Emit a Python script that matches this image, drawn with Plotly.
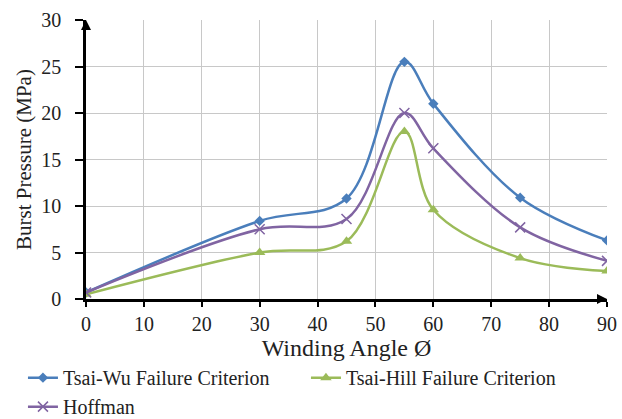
import plotly.graph_objects as go

angles = [0, 30, 45, 55, 60, 75, 90]
tsai_wu = [0.7, 8.4, 10.8, 25.5, 21.0, 10.9, 6.3]
tsai_hill = [0.5, 5.0, 6.2, 18.0, 9.6, 4.4, 3.0]
hoffman = [0.7, 7.5, 8.6, 20.0, 16.2, 7.7, 4.1]
x_ticks = [0, 10, 20, 30, 40, 50, 60, 70, 80, 90]
y_ticks = [0, 5, 10, 15, 20, 25, 30]

FONT = "Liberation Serif, Times New Roman, serif"
TXT = "#222"

fig = go.Figure()
fig.add_trace(go.Scatter(x=angles, y=tsai_wu, name="Tsai-Wu Failure Criterion",
                         mode="lines+markers", line=dict(color="#4A7EBB", width=2.5, shape="spline", smoothing=1),
                         marker=dict(symbol="diamond", size=8, color="#4A7EBB")))
fig.add_trace(go.Scatter(x=angles, y=tsai_hill, name="Tsai-Hill Failure Criterion",
                         mode="lines+markers", line=dict(color="#9BBB59", width=2.5, shape="spline", smoothing=1),
                         marker=dict(symbol="triangle-up", size=10, color="#9BBB59")))
fig.add_trace(go.Scatter(x=angles, y=hoffman, name="Hoffman",
                         mode="lines+markers", line=dict(color="#8064A2", width=2.5, shape="spline", smoothing=1),
                         marker=dict(symbol="x-thin", size=10, line=dict(color="#8064A2", width=1.5))))

fig.update_layout(
    width=622, height=419,
    margin=dict(l=86, r=15, t=20, b=120, autoexpand=False),
    paper_bgcolor="white", plot_bgcolor="white",
    font=dict(family=FONT, color=TXT, size=20),
    showlegend=True,
    legend=dict(orientation="h", x=-0.121, y=-0.212, xanchor="left", yanchor="top",
                font=dict(family=FONT, size=20, color=TXT), tracegroupgap=0, itemwidth=30,
                entrywidth=238, entrywidthmode="pixels"),
    xaxis=dict(range=[0, 90], tickvals=x_ticks, showgrid=True, gridcolor="#c8c8c8", gridwidth=1,
               showline=True, linecolor="black", linewidth=2.5, ticks="outside", ticklen=5,
               tickcolor="black", tickwidth=2, zeroline=False, ticklabelstandoff=0,
               tickfont=dict(family=FONT, size=20, color=TXT),
               title=dict(text="Winding Angle Ø", font=dict(family=FONT, size=24, color=TXT), standoff=0)),
    yaxis=dict(range=[0, 30], tickvals=y_ticks, showgrid=True, gridcolor="#c8c8c8", gridwidth=1,
               showline=True, linecolor="black", linewidth=2.5, ticks="outside", ticklen=8,
               tickcolor="black", tickwidth=1.5, zeroline=False, ticklabelstandoff=10,
               tickfont=dict(family=FONT, size=20, color=TXT),
               title=dict(text="Burst Pressure (MPa)", font=dict(family=FONT, size=21, color=TXT), standoff=4)),
)

# axis arrowheads
fig.add_annotation(x=0, y=30, ax=0, ay=29, xref="x", yref="y", axref="x", ayref="y",
                   showarrow=True, arrowhead=2, arrowsize=1, arrowwidth=2, arrowcolor="black", text="")
fig.add_annotation(x=90, y=0, ax=89, ay=0, xref="x", yref="y", axref="x", ayref="y",
                   showarrow=True, arrowhead=2, arrowsize=1, arrowwidth=2, arrowcolor="black", text="")

fig.write_html("out.html", config={"displayModeBar": False},
               post_script="document.body.style.margin='0px';")
